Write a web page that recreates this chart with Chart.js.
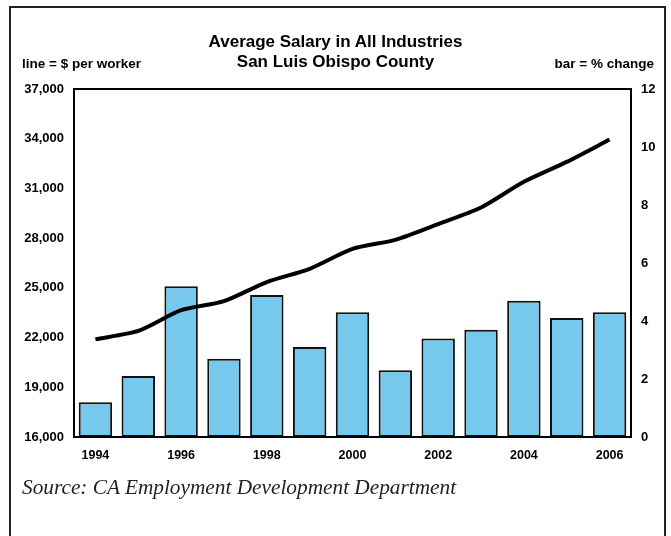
<!DOCTYPE html>
<html>
<head>
<meta charset="utf-8">
<script src="https://cdn.jsdelivr.net/npm/chart.js@4.4.0/dist/chart.umd.min.js"></script>
<style>
  html, body { margin:0; padding:0; background:#fff; }
  #wrap { position:relative; width:671px; height:536px; overflow:hidden; }
  #frame { position:absolute; left:9px; top:6px; width:657px; height:560px; border:2px solid #222; box-sizing:border-box; }
  canvas { position:absolute; left:0; top:0; }
  .t { position:absolute; font-family:"Liberation Sans", Arial, sans-serif; font-weight:bold; color:#000; white-space:nowrap; }
  #title { left:0; width:671px; text-align:center; top:32px; font-size:17px; line-height:20px; }
  #lleft { left:22px; top:56px; font-size:13.5px; }
  #lright { right:17px; top:56px; font-size:13.5px; }
  #src { position:absolute; left:22px; top:475px; font-family:"Liberation Serif", "Times New Roman", serif; font-style:italic; font-size:21.3px; color:#222; white-space:nowrap; }
</style>
</head>
<body>
<div id="wrap">
  <canvas id="c" width="671" height="536"></canvas>
  <div id="frame"></div>
  <div class="t" id="title">Average Salary in All Industries<br>San Luis Obispo County</div>
  <div class="t" id="lleft">line = $ per worker</div>
  <div class="t" id="lright">bar = % change</div>
  <div id="src">Source: CA Employment Development Department</div>
</div>
<script>
const years = ["1994","1995","1996","1997","1998","1999","2000","2001","2002","2003","2004","2005","2006"];
const salary = [21900, 22400, 23650, 24200, 25350, 26150, 27350, 27900, 28850, 29850, 31400, 32600, 33950];
const pctChange = [1.2, 2.1, 5.2, 2.7, 4.9, 3.1, 4.3, 2.3, 3.4, 3.7, 4.7, 4.1, 4.3];
const leftTicks = [16000, 19000, 22000, 25000, 28000, 31000, 34000, 37000];
const rightTicks = [0, 2, 4, 6, 8, 10, 12];

const tickFont = { family: "'Liberation Sans', Arial, sans-serif", weight: 'bold', size: 13 };
const xFont = { family: "'Liberation Sans', Arial, sans-serif", weight: 'bold', size: 12.5 };

const boxPlugin = {
  id: 'box',
  afterDraw(chart) {
    const a = chart.chartArea, ctx = chart.ctx;
    ctx.save();
    ctx.strokeStyle = '#000';
    ctx.lineWidth = 2;
    ctx.strokeRect(a.left, a.top, a.right - a.left, a.bottom - a.top);
    ctx.restore();
  }
};

new Chart(document.getElementById('c'), {
  data: {
    labels: years,
    datasets: [
      { type: 'line', data: salary, yAxisID: 'y', borderColor: '#000', borderWidth: 4, pointRadius: 0, tension: 0.25, order: 0 },
      { type: 'bar', data: pctChange, yAxisID: 'y1', backgroundColor: '#76C9EC', borderColor: '#111', borderWidth: 2, borderSkipped: false, barPercentage: 0.78, categoryPercentage: 1.0, order: 1 }
    ]
  },
  options: {
    responsive: false,
    animation: false,
    layout: { padding: { top: 89, bottom: 59, left: 0, right: 0 } },
    plugins: { legend: { display: false }, tooltip: { enabled: false }, title: { display: false } },
    scales: {
      x: {
        grid: { display: false },
        border: { color: '#000', width: 2 },
        ticks: { color: '#000', font: xFont, autoSkip: false, maxRotation: 0, padding: 3,
          callback: function(v, i) { return i % 2 === 0 ? years[i] : ''; } },
        afterFit: s => { s.height = 40; }
      },
      y: {
        position: 'left', min: leftTicks[0], max: leftTicks[leftTicks.length - 1],
        afterBuildTicks: s => { s.ticks = leftTicks.map(v => ({ value: v })); },
        grid: { display: false },
        border: { color: '#000', width: 2 },
        ticks: { color: '#000', font: tickFont, padding: 2,
          callback: v => v.toLocaleString('en-US') },
        afterFit: s => { s.width = 74; }
      },
      y1: {
        position: 'right', min: 0, max: 12,
        afterBuildTicks: s => { s.ticks = rightTicks.map(v => ({ value: v })); },
        grid: { display: false },
        border: { color: '#000', width: 2 },
        ticks: { color: '#000', font: tickFont, padding: 2 },
        afterFit: s => { s.width = 40; }
      }
    }
  },
  plugins: [boxPlugin]
});
</script>
</body>
</html>
